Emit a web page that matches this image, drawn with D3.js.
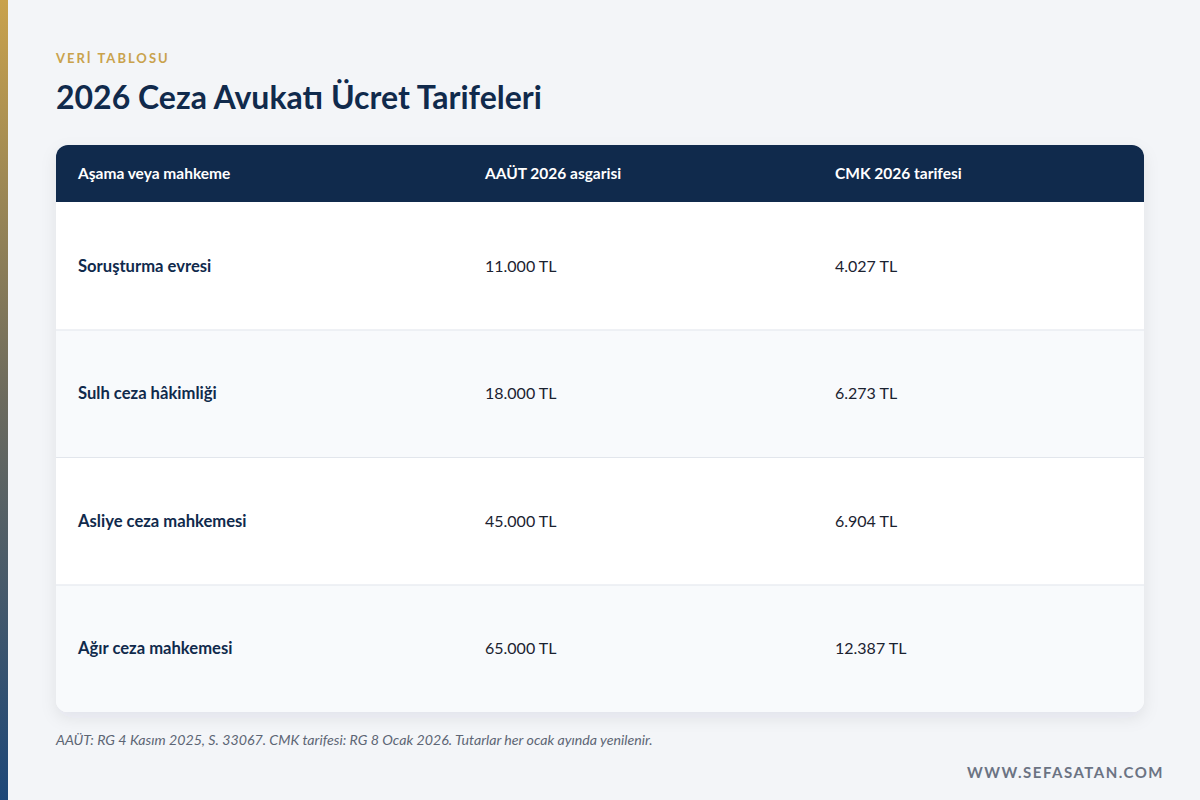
<!DOCTYPE html>
<html><head><meta charset="utf-8">
<script src="https://cdn.jsdelivr.net/npm/d3@7"></script>
<style>body{margin:0;background:#f3f5f8;}svg{display:block;font-family:Lato,sans-serif;}</style>
</head><body><svg id="c" width="1200" height="800"></svg>
<script>
const columns = ["Aşama veya mahkeme", "AAÜT 2026 asgarisi", "CMK 2026 tarifesi"];
const categories = ["Soruşturma evresi", "Sulh ceza hâkimliği", "Asliye ceza mahkemesi", "Ağır ceza mahkemesi"];
const aautValues = [11000, 18000, 45000, 65000];
const cmkValues = [4027, 6273, 6904, 12387];

const svg = d3.select("#c");
const defs = svg.append("defs");
const g = defs.append("linearGradient").attr("id","side").attr("x1",0).attr("x2",0).attr("y1",0).attr("y2",1);
g.append("stop").attr("offset","0").attr("stop-color","#c9a24c");
g.append("stop").attr("offset","0.5").attr("stop-color","#6b6a5e");
g.append("stop").attr("offset","1").attr("stop-color","#1d4778");
const f = defs.append("filter").attr("id","sh").attr("x","-5%").attr("y","-5%").attr("width","110%").attr("height","115%");
f.append("feDropShadow").attr("dx",0).attr("dy",6).attr("stdDeviation",8).attr("flood-color","#0f2744").attr("flood-opacity",0.08);
defs.append("clipPath").attr("id","cl").append("rect").attr("x",56).attr("y",145).attr("width",1088).attr("height",567).attr("rx",12);

svg.append("rect").attr("width",1200).attr("height",800).attr("fill","#f3f5f8");
svg.append("rect").attr("width",8).attr("height",800).attr("fill","url(#side)");

svg.append("text").attr("x",56).attr("y",63).attr("fill","#c9a24c").attr("font-size",13).attr("font-weight",700).attr("letter-spacing",2).text("VERİ TABLOSU");
svg.append("text").attr("x",56).attr("y",109).attr("fill","#102a4c").attr("font-size",32).attr("font-weight",700).text("2026 Ceza Avukatı Ücret Tarifeleri");

const fmt = v => d3.format(",")(v).replace(/,/g,".") + " TL";
const y = d3.scaleBand().domain(categories).range([202,712]);
const x = d3.scaleOrdinal().domain(columns).range([78,485,835]);

svg.append("rect").attr("x",56).attr("y",145).attr("width",1088).attr("height",567).attr("rx",12).attr("fill","#fff").attr("filter","url(#sh)");
const tb = svg.append("g").attr("clip-path","url(#cl)");
tb.append("rect").attr("x",56).attr("y",145).attr("width",1088).attr("height",57).attr("fill","#102a4c");
tb.selectAll("text.h").data(columns).join("text").attr("x",d=>x(d)).attr("y",179).attr("fill","#fff").attr("font-size",15.5).attr("font-weight",700).text(d=>d);

const rows = tb.selectAll("g.r").data(categories).join("g");
rows.append("rect").attr("x",56).attr("y",d=>y(d)).attr("width",1088).attr("height",y.bandwidth()).attr("fill",(d,i)=>i%2?"#f8fafc":"#fff");
rows.filter((d,i)=>i>0).append("line").attr("x1",56).attr("x2",1144).attr("y1",d=>y(d)+0.5).attr("y2",d=>y(d)+0.5).attr("stroke","#e2e6ec");
const ty = d => y(d)+y.bandwidth()/2+6;
rows.append("text").attr("x",x(columns[0])).attr("y",ty).attr("fill","#102a4c").attr("font-size",16.6).attr("font-weight",700).text(d=>d);
rows.append("text").attr("x",x(columns[1])).attr("y",ty).attr("fill","#1b2230").attr("font-size",16).text((d,i)=>fmt(aautValues[i]));
rows.append("text").attr("x",x(columns[2])).attr("y",ty).attr("fill","#1b2230").attr("font-size",16).text((d,i)=>fmt(cmkValues[i]));

svg.append("text").attr("x",56).attr("y",745).attr("fill","#5d6675").attr("font-size",14.2).attr("font-style","italic").text("AAÜT: RG 4 Kasım 2025, S. 33067. CMK tarifesi: RG 8 Ocak 2026. Tutarlar her ocak ayında yenilenir.");
svg.append("text").attr("x",1164).attr("y",778).attr("text-anchor","end").attr("fill","#6b7383").attr("font-size",15).attr("font-weight",700).attr("letter-spacing",1.5).text("WWW.SEFASATAN.COM");
</script></body></html>
